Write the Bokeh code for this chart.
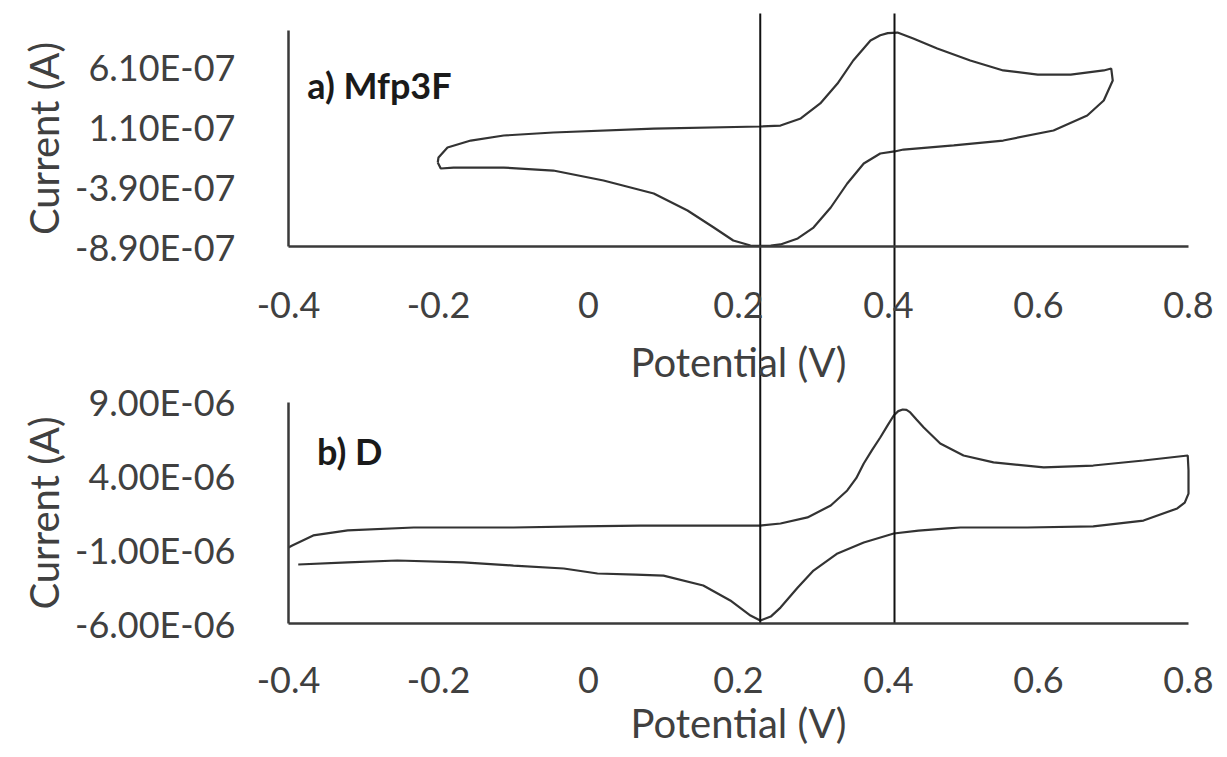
from bokeh.plotting import figure
from bokeh.models import LinearAxis, Range1d, FixedTicker, CustomJSTickFormatter, Label
from bokeh.embed import file_html
from bokeh.resources import INLINE

# ---------------- data ----------------
# Panel a) Mfp3F : cyclic voltammogram (potential in V, current in A)
potential_a = [-0.201, -0.200, -0.188, -0.157, -0.113, -0.047, 0.087, 0.229, 0.256, 0.283,
               0.309, 0.332, 0.353, 0.376, 0.389, 0.399, 0.412, 0.433, 0.465, 0.509, 0.553,
               0.599, 0.643, 0.687, 0.697, 0.699, 0.687, 0.665, 0.620, 0.553, 0.487,
               0.420, 0.408, 0.389, 0.367, 0.345, 0.323, 0.300, 0.279, 0.256, 0.243,
               0.229, 0.216, 0.193, 0.167, 0.132, 0.087, 0.020, -0.047, -0.113, -0.180,
               -0.197, -0.201]
current_a = [-1.90e-7, -1.48e-7, -0.65e-7, -0.07e-7, 0.35e-7, 0.60e-7, 0.93e-7, 1.10e-7, 1.18e-7, 1.77e-7,
             3.02e-7, 4.68e-7, 6.60e-7, 8.27e-7, 8.70e-7, 8.88e-7, 8.93e-7, 8.43e-7, 7.60e-7, 6.60e-7, 5.77e-7,
             5.43e-7, 5.43e-7, 5.77e-7, 5.93e-7, 4.93e-7, 3.27e-7, 2.02e-7, 0.77e-7, -0.07e-7, -0.48e-7,
             -0.82e-7, -0.98e-7, -1.15e-7, -1.98e-7, -3.65e-7, -5.65e-7, -7.32e-7, -8.23e-7, -8.73e-7, -8.82e-7,
             -8.85e-7, -8.82e-7, -8.40e-7, -7.32e-7, -5.90e-7, -4.48e-7, -3.40e-7, -2.57e-7, -2.32e-7, -2.32e-7,
             -2.40e-7, -1.90e-7]

# Panel b) D
potential_b = [-0.400, -0.395, -0.367, -0.321, -0.233, -0.100, -0.011, 0.069, 0.229, 0.256,
               0.292, 0.323, 0.345, 0.357, 0.367, 0.378, 0.389, 0.399, 0.407, 0.413,
               0.419, 0.424, 0.429, 0.437, 0.447, 0.469, 0.500, 0.540, 0.607, 0.673,
               0.740, 0.799, 0.800, 0.800, 0.795, 0.785, 0.740, 0.673, 0.585, 0.496,
               0.479, 0.440, 0.407, 0.367, 0.332, 0.300, 0.279, 0.256, 0.243, 0.229,
               0.216, 0.189, 0.153, 0.100, 0.063, 0.012, -0.033, -0.100, -0.167, -0.255,
               -0.321, -0.387]
current_b = [-0.85e-6, -0.71e-6, -0.03e-6, 0.31e-6, 0.51e-6, 0.51e-6, 0.58e-6, 0.64e-6, 0.64e-6, 0.78e-6,
             1.19e-6, 2.00e-6, 3.02e-6, 3.85e-6, 4.85e-6, 5.75e-6, 6.61e-6, 7.45e-6, 8.10e-6, 8.40e-6,
             8.51e-6, 8.48e-6, 8.31e-6, 7.85e-6, 7.29e-6, 6.20e-6, 5.39e-6, 4.92e-6, 4.58e-6, 4.71e-6,
             5.05e-6, 5.39e-6, 4.37e-6, 2.81e-6, 2.20e-6, 1.80e-6, 0.98e-6, 0.58e-6, 0.51e-6, 0.51e-6,
             0.45e-6, 0.30e-6, 0.10e-6, -0.51e-6, -1.25e-6, -2.41e-6, -3.56e-6, -4.92e-6, -5.53e-6, -5.80e-6,
             -5.46e-6, -4.44e-6, -3.42e-6, -2.75e-6, -2.68e-6, -2.61e-6, -2.27e-6, -2.07e-6, -1.86e-6, -1.73e-6,
             -1.86e-6, -2.00e-6]

peak_potentials = [0.229, 0.408]

x_ticks = [-0.4, -0.2, 0.0, 0.2, 0.4, 0.6, 0.8]
x_tick_labels = ["-0.4", "-0.2", "0", "0.2", "0.4", "0.6", "0.8"]
y_ticks_a = [-8.9e-7, -3.9e-7, 1.1e-7, 6.1e-7]
y_tick_labels_a = ["-8.90E-07", "-3.90E-07", "1.10E-07", "6.10E-07"]
y_ticks_b = [-6e-6, -1e-6, 4e-6, 9e-6]
y_tick_labels_b = ["-6.00E-06", "-1.00E-06", "4.00E-06", "9.00E-06"]
panel_labels = ["a) Mfp3F", "b) D"]
x_title = "Potential (V)"
y_title = "Current (A)"

# ---------------- layout (frame = whole canvas, axes at fixed locations) ----------------
W, H = 1227, 757
X0_PX, X1_PX = 288, 1188            # pixel columns of -0.4 V and 0.8 V
PX_PER_V = (X1_PX - X0_PX) / 1.2
x_lo = -0.4 - X0_PX / PX_PER_V
x_hi = 0.8 + (W - X1_PX) / PX_PER_V

B_AXIS_PX, B_SCALE = 623, 14.75e6    # panel b: -6e-6 A at row 623, px per A
A_AXIS_PX, A_SCALE = 246, 1.2e8      # panel a: -8.9e-7 A at row 246, px per A
b_lo = -6e-6 - (H - B_AXIS_PX) / B_SCALE
b_hi = -6e-6 + B_AXIS_PX / B_SCALE
a_lo = -8.9e-7 - (H - A_AXIS_PX) / A_SCALE
a_hi = -8.9e-7 + A_AXIS_PX / A_SCALE
line_top = -6e-6 + (B_AXIS_PX - 13) / B_SCALE

p = figure(width=W, height=H, x_range=Range1d(x_lo, x_hi), y_range=Range1d(b_lo, b_hi),
           x_axis_type=None, y_axis_type=None, output_backend="svg", toolbar_location=None,
           min_border=0, min_border_left=0, min_border_right=0, min_border_top=0, min_border_bottom=0)
p.extra_y_ranges = {"a": Range1d(a_lo, a_hi)}
p.outline_line_color = None
p.background_fill_color = "white"
p.border_fill_color = "white"

JS = """
let best = 0;
for (let i = 1; i < tv.length; i++) {
  if (Math.abs(tv[i] - tick) < Math.abs(tv[best] - tick)) best = i;
}
return tl[best];
"""

def fmt(tick_values, tick_texts):
    return CustomJSTickFormatter(args=dict(tv=tick_values, tl=tick_texts), code=JS)

TEXT = "#404040"

def style(ax, label_standoff, title_standoff):
    ax.axis_line_color = "#3a3a3a"
    ax.axis_line_width = 2.5
    ax.major_tick_line_color = None
    ax.minor_tick_line_color = None
    ax.major_label_text_font = "Lato"
    ax.major_label_text_font_size = "36px"
    ax.major_label_text_color = TEXT
    ax.axis_label_text_font = "Lato"
    ax.axis_label_text_font_size = "40px"
    ax.axis_label_text_font_style = "normal"
    ax.axis_label_text_color = TEXT
    ax.major_label_standoff = label_standoff
    ax.axis_label_standoff = title_standoff

ya = LinearAxis(y_range_name="a", fixed_location=-0.4, bounds=(-8.9e-7, 9.1e-7),
                ticker=FixedTicker(ticks=y_ticks_a), formatter=fmt(y_ticks_a, y_tick_labels_a),
                axis_label=y_title)
style(ya, 47, 4)
p.add_layout(ya, "left")

yb = LinearAxis(fixed_location=-0.4, bounds=(-6e-6, 9e-6),
                ticker=FixedTicker(ticks=y_ticks_b), formatter=fmt(y_ticks_b, y_tick_labels_b),
                axis_label=y_title)
style(yb, 47, 4)
p.add_layout(yb, "left")

xa = LinearAxis(y_range_name="a", fixed_location=-8.9e-7, bounds=(-0.4, 0.8),
                ticker=FixedTicker(ticks=x_ticks), formatter=fmt(x_ticks, x_tick_labels),
                axis_label=x_title)
style(xa, 39, 17)
p.add_layout(xa, "below")

xb = LinearAxis(fixed_location=-6e-6, bounds=(-0.4, 0.8),
                ticker=FixedTicker(ticks=x_ticks), formatter=fmt(x_ticks, x_tick_labels),
                axis_label=x_title)
style(xb, 37, 3)
p.add_layout(xb, "below")

p.line(potential_a, current_a, y_range_name="a", line_color="#333333", line_width=2.2)
p.line(potential_b, current_b, line_color="#333333", line_width=2.2)

# vertical reference lines through both panels at the peak potentials
p.segment(x0=peak_potentials, y0=[-6e-6] * len(peak_potentials),
          x1=peak_potentials, y1=[line_top] * len(peak_potentials),
          line_color="#111111", line_width=2)

p.add_layout(Label(x=-0.375, y=-8.9e-7 + (A_AXIS_PX - 84) / A_SCALE, y_range_name="a",
                   text=panel_labels[0], text_font="Lato", text_font_style="bold",
                   text_font_size="36px", text_color="#1a1a1a", text_baseline="alphabetic"))
p.add_layout(Label(x=-0.362, y=-6e-6 + (B_AXIS_PX - 450) / B_SCALE,
                   text=panel_labels[1], text_font="Lato", text_font_style="bold",
                   text_font_size="36px", text_color="#1a1a1a", text_baseline="alphabetic"))

open("out.html", "w").write(file_html(p, INLINE))
